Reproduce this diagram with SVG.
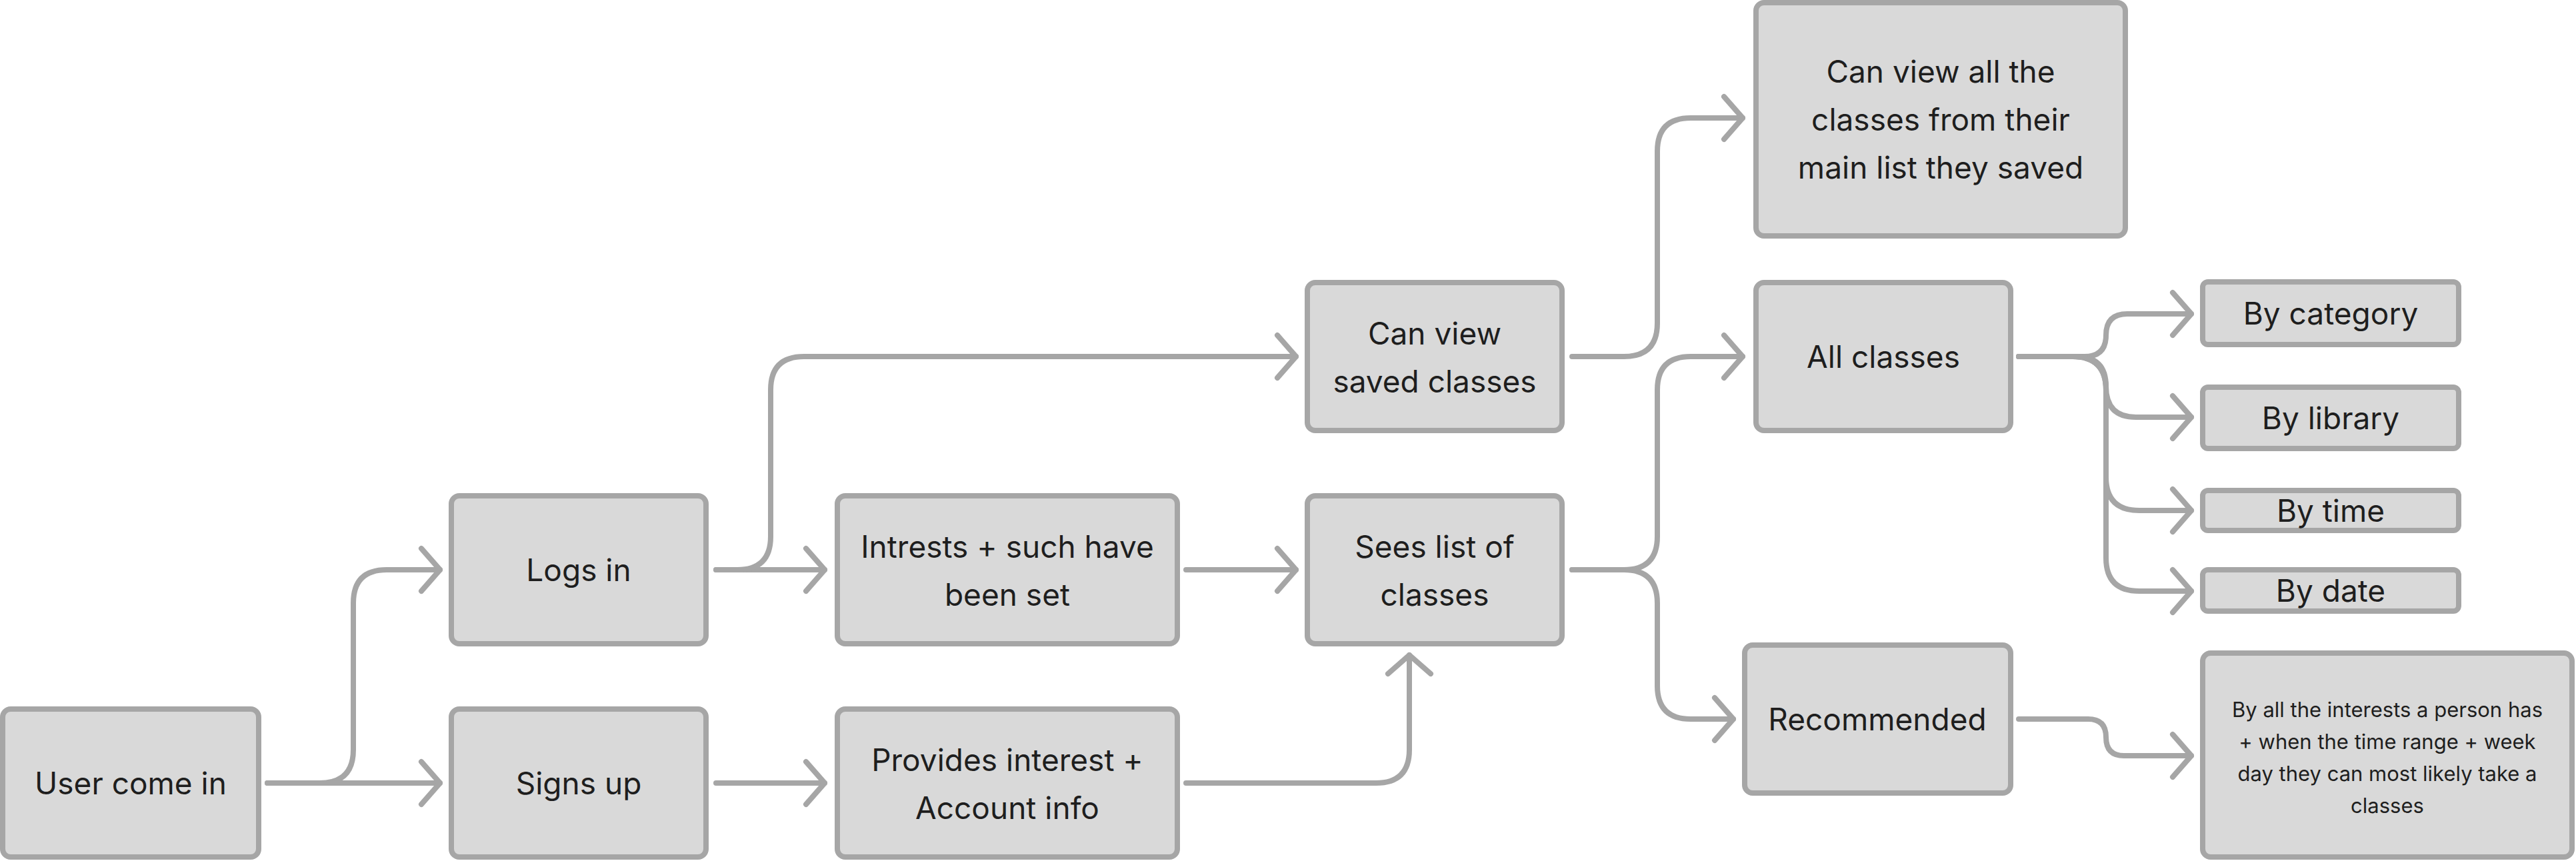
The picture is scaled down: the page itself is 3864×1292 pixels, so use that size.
<svg xmlns="http://www.w3.org/2000/svg" width="3864" height="1292" viewBox="0 0 3864 1292">
<style>
.n rect{fill:#d9d9d9;stroke:#a6a6a6;stroke-width:8}
.n text{font-family:Inter,"Liberation Sans",sans-serif;font-size:46px;fill:#1e1e1e;text-anchor:middle;dominant-baseline:central}
.n text.s{font-size:31px}
#edges path{fill:none;stroke:#a6a6a6;stroke-width:8;stroke-linecap:round;marker-end:url(#a)}
</style>
<defs><marker id="a" markerUnits="userSpaceOnUse" markerWidth="80" markerHeight="80" refX="0" refY="0" viewBox="-40 -40 80 80" orient="auto" overflow="visible"><path d="M-28 -32 L0 0 L-28 32" fill="none" stroke="#a6a6a6" stroke-width="8" stroke-linecap="round" stroke-linejoin="round"/></marker></defs>
<rect width="3864" height="1292" fill="#fff"/>
<g id="edges">
<path d="M401 1175 H480 Q530 1175 530 1125 V905 Q530 855 580 855 H660"/>
<path d="M401 1175 H660"/>
<path d="M1074 855 H1237"/>
<path d="M1074 855 H1106 Q1156 855 1156 805 V585 Q1156 535 1206 535 H1944"/>
<path d="M1074 1175 H1237"/>
<path d="M1779 855 H1944"/>
<path d="M1779 1175 H2064 Q2114 1175 2114 1125 V983"/>
<path d="M2358 535 H2436 Q2486 535 2486 485 V227 Q2486 177 2536 177 H2614"/>
<path d="M2358 855 H2436 Q2486 855 2486 805 V585 Q2486 535 2536 535 H2614"/>
<path d="M2358 855 H2436 Q2486 855 2486 905 V1029 Q2486 1079 2536 1079 H2600"/>
<path d="M3028 535 H3127 Q3159 535 3159 503 Q3159 471 3191 471 H3287"/>
<path d="M3028 535 H3114 Q3159 535 3159 580 Q3159 626 3204 626 H3287"/>
<path d="M3028 535 H3109 Q3159 535 3159 585 V716 Q3159 766 3209 766 H3287"/>
<path d="M3028 535 H3109 Q3159 535 3159 585 V837 Q3159 887 3209 887 H3287"/>
<path d="M3028 1079 H3132 Q3159 1079 3159 1106 Q3159 1134 3186 1134 H3287"/>
</g>
<g id="user" class="n"><rect x="4" y="1064" width="384" height="222" rx="12"/><text x="196" y="1175">User come in</text></g>
<g id="login" class="n"><rect x="677" y="744" width="382" height="222" rx="12"/><text x="868" y="855">Logs in</text></g>
<g id="signup" class="n"><rect x="677" y="1064" width="382" height="222" rx="12"/><text x="868" y="1175">Signs up</text></g>
<g id="interests" class="n"><rect x="1256" y="744" width="510" height="222" rx="12"/><text x="1511" y="820">Intrests + such have</text><text x="1511" y="892">been set</text></g>
<g id="provides" class="n"><rect x="1256" y="1064" width="510" height="222" rx="12"/><text x="1511" y="1140">Provides interest +</text><text x="1511" y="1212">Account info</text></g>
<g id="saved" class="n"><rect x="1961" y="424" width="382" height="222" rx="12"/><text x="2152" y="500">Can view</text><text x="2152" y="572">saved classes</text></g>
<g id="sees" class="n"><rect x="1961" y="744" width="382" height="222" rx="12"/><text x="2152" y="820">Sees list of</text><text x="2152" y="892">classes</text></g>
<g id="viewall" class="n"><rect x="2634" y="4" width="554" height="350" rx="12"/><text x="2911" y="107">Can view all the</text><text x="2911" y="179">classes from their</text><text x="2911" y="251">main list they saved</text></g>
<g id="all" class="n"><rect x="2634" y="424" width="382" height="222" rx="12"/><text x="2825" y="535">All classes</text></g>
<g id="rec" class="n"><rect x="2617" y="968" width="399" height="222" rx="12"/><text x="2816" y="1079">Recommended</text></g>
<g id="cat" class="n"><rect x="3304" y="423" width="384" height="94" rx="8"/><text x="3496" y="470">By category</text></g>
<g id="lib" class="n"><rect x="3304" y="581" width="384" height="92" rx="8"/><text x="3496" y="627">By library</text></g>
<g id="time" class="n"><rect x="3304" y="736" width="384" height="60" rx="8"/><text x="3496" y="766">By time</text></g>
<g id="date" class="n"><rect x="3304" y="855" width="384" height="62" rx="8"/><text x="3496" y="886">By date</text></g>
<g id="byall" class="n"><rect x="3304" y="980" width="554" height="306" rx="12"/><text class="s" x="3581" y="1064">By all the interests a person has</text><text class="s" x="3581" y="1112">+ when the time range + week</text><text class="s" x="3581" y="1160">day they can most likely take a</text><text class="s" x="3581" y="1208">classes</text></g>
</svg>
